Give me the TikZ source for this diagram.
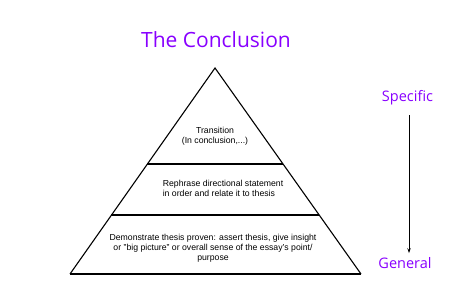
\documentclass[tikz,border=0pt]{standalone}
\usepackage{fontspec}
\setmainfont{Liberation Sans}
\newfontfamily\titlefont{Open Sans}
\usetikzlibrary{calc,arrows.meta,positioning}
\definecolor{titlepurple}{RGB}{136,0,255}
\tikzset{
    % pyramid outline and layer dividers
    pyredge/.style={line width=1.1pt, black},
    layerline/.style={line width=1.6pt, black},
    % texts
    titletext/.style={font=\titlefont\fontsize{21}{24}\selectfont, text=titlepurple, inner sep=0pt},
    sidetext/.style={font=\titlefont\fontsize{14.5}{16}\selectfont, text=titlepurple, inner sep=0pt},
    layertext/.style={font=\fontsize{8.7}{10}\selectfont, align=center, inner sep=0pt},
    % arrow from specific to general
    sidearc/.style={-{Stealth[length=1.8mm,width=1.2mm]}, line width=0.9pt, black},
}
\begin{document}
\begin{tikzpicture}[x=1pt,y=-1pt]
    \useasboundingbox (0,0) rectangle (463,304);
    % corners of the pyramid
    \coordinate (apex) at (215,68);
    \coordinate (bl) at (70,274);
    \coordinate (br) at (361,274);
    \coordinate (l1) at ($(apex)!0.466!(bl)$);
    \coordinate (r1) at ($(apex)!0.466!(br)$);
    \coordinate (l2) at ($(apex)!0.714!(bl)$);
    \coordinate (r2) at ($(apex)!0.714!(br)$);
    \draw[pyredge] (bl) -- (apex) -- (br);
    \draw[layerline] (bl) -- (br);
    \draw[layerline] (l1) -- (r1);
    \draw[layerline] (l2) -- (r2);
    % texts
    \node[titletext] (title) at (216,40) {The Conclusion};
    \node[layertext] (top) at (215,136) {Transition\\(In conclusion,...)};
    \node[layertext, align=left] (mid) at (223,188) {Rephrase directional statement\\in order and relate it to thesis};
    \node[layertext] (bot) at (213,248) {Demonstrate thesis proven: assert thesis, give insight\\or "big picture" or overall sense of the essay's point/\\purpose};
    \node[sidetext] (spec) at (407.5,98) {Specific};
    \node[sidetext] (gen) at (405,263) {General};
    \draw[sidearc, shorten <=10pt, shorten >=4pt] ([xshift=1.5pt]spec.south) -- ([xshift=1.5pt]spec.south |- gen.north);
\end{tikzpicture}
\end{document}
